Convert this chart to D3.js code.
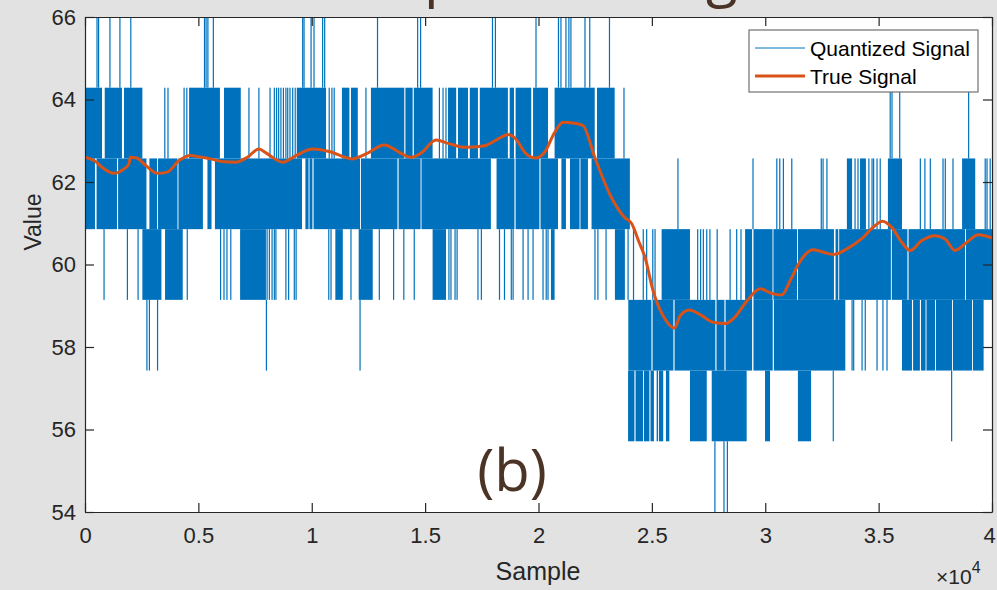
<!DOCTYPE html>
<html>
<head>
<meta charset="utf-8">
<script src="https://cdn.jsdelivr.net/npm/d3@7"></script>
<style>
  body { margin: 0; background: #e1e2e1; }
  svg { display: block; }
  .axis text { font-family: "Liberation Sans", Arial, sans-serif; fill: #262626; }
</style>
</head>
<body>
<div id="chart"></div>
<script>
// quantizer output levels (12 / 7 apart between 54 and 66)
var quantLevels = [54, 55.714, 57.429, 59.143, 60.857, 62.571, 64.286, 66];

// quantized signal, one list per step between two neighbouring levels.
// a plain number = a single jump (thin line), [a, b] = dense toggling between the two levels
var spansStep0 = [27780, 28180, 28330];
var spansStep1 = [[23950, 24230], [24280, 24610], [24650, 24890], [24940, 25090], [25210, 25270], [25310, 25500],
    [25620, 25770], [26680, 27420], [27640, 29180], [29990, 30210], [31440, 32020], 33000, 38220];
var spansStep2 = [2730, 2840, 3200, 8000, 12130, [23960, 24980], [25030, 25950], [26000, 27800], [27850, 28200],
    [28250, 29420], [29480, 30330], [30380, 33530], 33830, 33900, 34270, 34410, 34930, 35190, 35370,
    [36030, 36470], [36520, 36820], [36870, 37070], [37110, 37490], [37530, 38240], [38280, 39120], [39160, 39630]];
var spansStep3 = [840, 1870, 2340, [2530, 3370], [3530, 4310], 4510, 5980, 6130, 6260, 6430, [6840, 7980],
    8030, 8130, 8250, 8350, 8420, 8860, 8980, 9230, 9310, 10750, 10850, [11040, 11370], 11730, [12070, 12690],
    12980, 13610, 14060, 14520, [15330, 15920], 16050, 16140, 16320, 16410, 17330, 17480, 18280, 18500, 18800,
    18880, 19320, 19540, 19760, 20200, 20340, 20420, [20550, 20710], 22490, 22620, 22980, [23370, 23810], 23950,
    24190, 24620, 24770, 25040, 25140, [25430, 26680], 27020, 27150, 27270, 27420, 27560, 27880, 28450, 28740,
    28930, [29110, 29420], [29480, 30320], [30360, 31400], [31440, 33030], [33100, 33220], [33260, 35540],
    [35580, 36270], [36320, 38810], [38850, 40000]];
var spansStep4 = [[0, 440], [510, 1410], [1460, 2710], [2840, 3180], [3220, 4080], [4120, 5200], [5400, 5580],
    [5730, 9570], [9720, 9860], [9900, 10030], [10080, 12130], [12170, 13780], [13830, 14800], [14840, 17900],
    [18150, 18940], [18990, 20040], [20090, 20860], [21010, 21210], [21390, 21810], [21850, 22180], [22340, 24030],
    26150, 29460, 30510, 30640, 30800, 31170, 32470, 32550, 32720, [33600, 33830], 33960, 34090, [34180, 34440],
    34570, 34710, 34780, 34930, 35070, [35410, 36030], 36840, 37040, 37280, 37840, 37940, 38280, [38680, 39260],
    39700, 39780, 39920];
var spansStep5 = [[30, 750], [870, 1630], [1720, 2530], 3520, 3660, 4370, 4490, [4590, 5950], [6130, 6870],
    7230, 7670, 8160, 8350, 8450, 8540, 8640, 8750, 8860, 8940, 9040, 9160, 9270, [9340, 10630], 10770, 10890,
    10990, [11330, 11660], [11730, 12030], 12390, [12610, 14080], [14130, 14450], [14500, 15330], 15630, 15790,
    15920, [16010, 16370], [16450, 16890], [16970, 17330], [17410, 18650], [18730, 18920], [18990, 19680],
    [19760, 20420], [20710, 22480], [22580, 23360], 23770, 35510, 35590, 35930, 38970];
var spansStep6 = [530, 600, 1100, 1540, 2020, 5270, 5340, 5420, 5660, 9600, 9660, 9970, 10100, 10480, 10570,
    12900, 14670, 14800, 17970, 18100, 19890, 20880, 20990, 21210, 21340, 21430, 22050, 22260, 23130];

// true (unquantized) signal
var trueX = [0, 400, 840, 1250, 1720, 1940, 2000, 2280, 2680, 3190, 3630, 4150, 4660, 5030, 5540, 6130, 6650,
    7160, 7670, 8000, 8720, 9300, 10040, 10770, 11780, 12390, 13200, 13860, 14380, 14820, 15480, 16050, 16750,
    17630, 18210, 18650, 18950, 19460, 19860, 20270, 20710, 21080, 21520, 21960, 22480, 23210, 23800, 24100,
    24450, 24700, 25050, 25500, 26000, 26250, 26650, 27200, 27700, 28250, 28650, 29200, 29780, 30280, 30730,
    31100, 31550, 32100, 32500, 33000, 33600, 34240, 34750, 35170, 35580, 36020, 36390, 36900, 37490, 37930,
    38370, 38890, 39400, 40000];
var trueY = [62.60, 62.52, 62.32, 62.21, 62.32, 62.44, 62.60, 62.58, 62.40, 62.21, 62.24, 62.52, 62.64, 62.61,
    62.56, 62.49, 62.48, 62.60, 62.80, 62.70, 62.48, 62.64, 62.80, 62.74, 62.56, 62.68, 62.90, 62.72, 62.60,
    62.70, 63.02, 62.93, 62.84, 62.88, 63.04, 63.15, 63.07, 62.68, 62.58, 62.72, 63.20, 63.45, 63.43, 63.37,
    62.60, 61.63, 61.14, 61.00, 60.52, 60.17, 59.37, 58.75, 58.46, 58.76, 58.90, 58.76, 58.60, 58.57, 58.72,
    59.12, 59.41, 59.30, 59.26, 59.61, 60.09, 60.36, 60.31, 60.24, 60.38, 60.62, 60.90, 61.05, 60.90, 60.54,
    60.34, 60.58, 60.70, 60.62, 60.34, 60.54, 60.72, 60.64];

var xTicks = [0, 5000, 10000, 15000, 20000, 25000, 30000, 35000, 40000];
var xTickLabels = ["0", "0.5", "1", "1.5", "2", "2.5", "3", "3.5", "4"];
var yTicks = [54, 56, 58, 60, 62, 64, 66];

var seriesNames = ["Quantized Signal", "True Signal"];

showChart();

function showChart() {
    var width = 997, height = 590;
    var plot = { left: 85, right: 992, top: 17, bottom: 512 };
    var blue = "#0072bd", orange = "#d95319", brown = "#4b3426";
    var sans = "'Liberation Sans', Arial, sans-serif";

    var svg = d3.select("#chart").append("svg")
        .attr("width", width)
        .attr("height", height);

    svg.append("rect")
        .attr("width", width).attr("height", height)
        .attr("fill", "#e1e2e1");

    var x = d3.scaleLinear().domain([0, 40000]).range([plot.left, plot.right]);
    var y = d3.scaleLinear().domain([54, 66]).range([plot.bottom, plot.top]);

    // title text, only its lower edge shows above the axes
    var title = svg.append("text")
        .attr("x", 0).attr("y", -5)
        .style("font-family", "'Open Sans', sans-serif")
        .style("font-size", "58px")
        .attr("fill", brown)
        .text("Temperature Signal");
    var tn = title.node();
    var pc = tn.getExtentOfChar(3), gc = tn.getExtentOfChar(14);
    var gap = (gc.x + gc.width / 2) - (pc.x + pc.width / 2);
    title.style("letter-spacing", ((721 - 441) - gap) / 11 + "px");
    pc = tn.getExtentOfChar(3);
    title.attr("x", 441 - (pc.x + pc.width / 2));

    svg.append("rect")
        .attr("x", plot.left).attr("y", plot.top)
        .attr("width", plot.right - plot.left).attr("height", plot.bottom - plot.top)
        .attr("fill", "#fff");

    svg.append("clipPath").attr("id", "clip")
        .append("rect")
        .attr("x", plot.left).attr("y", plot.top)
        .attr("width", plot.right - plot.left).attr("height", plot.bottom - plot.top);

    var g = svg.append("g").attr("clip-path", "url(#clip)");

    var steps = [spansStep0, spansStep1, spansStep2, spansStep3, spansStep4, spansStep5, spansStep6];
    steps.forEach(function (spans, k) {
        g.append("g").selectAll("rect")
            .data(spans)
            .enter().append("rect")
            .attr("x", function (d) { return Array.isArray(d) ? x(d[0]) : x(d) - 0.6; })
            .attr("width", function (d) {
                return Array.isArray(d) ? Math.max(1.2, x(d[1]) - x(d[0])) : 1.2;
            })
            .attr("y", y(quantLevels[k + 1]))
            .attr("height", y(quantLevels[k]) - y(quantLevels[k + 1]))
            .attr("fill", blue);
    });

    var line = d3.line()
        .x(function (d, i) { return x(trueX[i]); })
        .y(function (d) { return y(d); })
        .curve(d3.curveMonotoneX);

    g.append("path")
        .attr("d", line(trueY))
        .attr("fill", "none")
        .attr("stroke", orange)
        .attr("stroke-width", 3)
        .attr("stroke-linejoin", "round");

    // axes (MATLAB style: ticks inside, box on)
    var xAxis = d3.axisBottom(x).tickValues(xTicks)
        .tickFormat(function (d, i) { return xTickLabels[i]; })
        .tickSizeInner(-9).tickSizeOuter(0).tickPadding(15);
    var yAxis = d3.axisLeft(y).tickValues(yTicks)
        .tickSizeInner(-9).tickSizeOuter(0).tickPadding(9);

    var gx = svg.append("g").attr("class", "axis")
        .attr("transform", "translate(0," + plot.bottom + ")")
        .call(xAxis);
    // last label sits against the window edge
    gx.selectAll(".tick text").filter(function (d) { return d === 40000; })
        .attr("dx", -3);
    svg.append("g").attr("class", "axis")
        .attr("transform", "translate(" + plot.left + ",0)")
        .call(yAxis);
    svg.append("g").attr("class", "axis")
        .attr("transform", "translate(0," + plot.top + ")")
        .call(d3.axisTop(x).tickValues(xTicks).tickFormat("").tickSizeInner(-9).tickSizeOuter(0));
    svg.append("g").attr("class", "axis")
        .attr("transform", "translate(" + plot.right + ",0)")
        .call(d3.axisRight(y).tickValues(yTicks).tickFormat("").tickSizeInner(-9).tickSizeOuter(0));

    svg.selectAll(".axis path, .axis line")
        .attr("stroke", "#262626")
        .attr("stroke-width", 1.2);
    svg.selectAll(".axis text")
        .style("font-size", "22px");

    svg.append("text")
        .attr("x", 538).attr("y", 580)
        .attr("text-anchor", "middle")
        .style("font-family", sans)
        .style("font-size", "25px")
        .attr("fill", "#262626")
        .text("Sample");

    svg.append("text")
        .attr("transform", "translate(41,222) rotate(-90)")
        .attr("text-anchor", "middle")
        .style("font-family", sans)
        .style("font-size", "23px")
        .attr("fill", "#262626")
        .text("Value");

    var expo = svg.append("text")
        .attr("x", 936).attr("y", 584)
        .style("font-family", sans)
        .style("font-size", "21px")
        .attr("fill", "#262626");
    expo.append("tspan").text("\u00d710");
    expo.append("tspan").attr("dy", -11).style("font-size", "16px").text("4");

    // legend
    var lg = svg.append("g").attr("transform", "translate(749,30)");
    lg.append("rect")
        .attr("width", 229).attr("height", 62)
        .attr("fill", "#fff")
        .attr("stroke", "#707070")
        .attr("stroke-width", 1.2);
    var items = lg.selectAll("g.item")
        .data(seriesNames)
        .enter().append("g")
        .attr("class", "item")
        .attr("transform", function (d, i) { return "translate(0," + (18 + i * 28) + ")"; });
    items.append("line")
        .attr("x1", 6).attr("x2", 56)
        .attr("stroke", function (d, i) { return i === 0 ? blue : orange; })
        .attr("stroke-width", function (d, i) { return i === 0 ? 1 : 3; });
    items.append("text")
        .attr("x", 61).attr("y", 7.5)
        .style("font-family", sans)
        .style("font-size", "21px")
        .attr("fill", "#000")
        .text(function (d) { return d; });

    // panel label
    svg.append("text")
        .attr("x", 512).attr("y", 491)
        .attr("text-anchor", "middle")
        .style("font-family", "'Open Sans', sans-serif")
        .style("font-size", "58px")
        .attr("fill", brown)
        .text("(b)");
}
</script>
</body>
</html>
